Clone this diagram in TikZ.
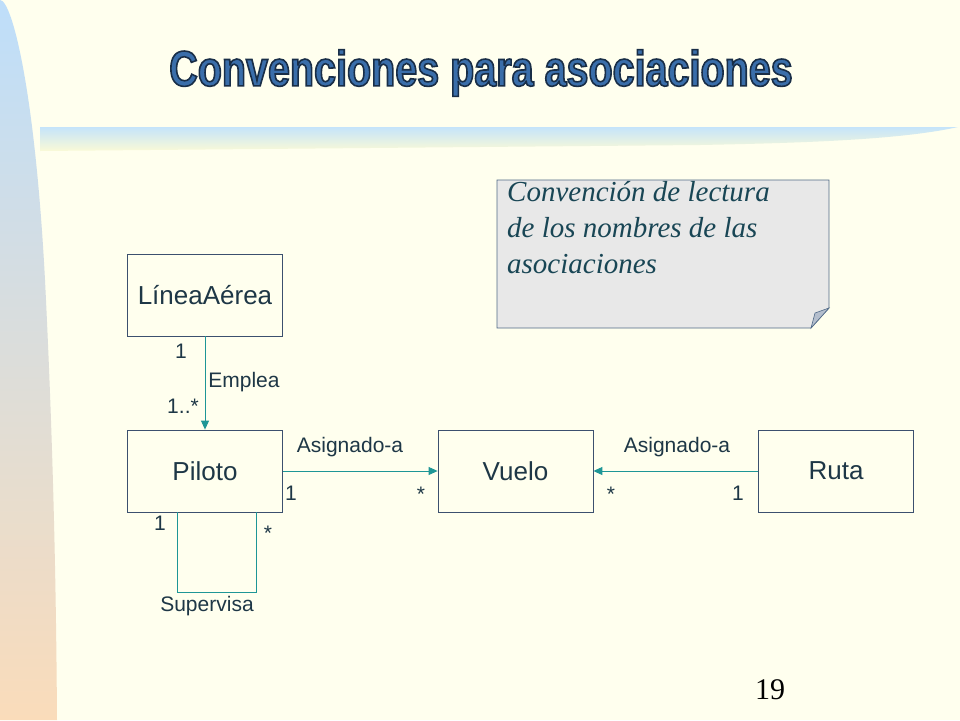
\documentclass[tikz,border=0pt]{standalone}
\usepackage{fontspec}
\setmainfont{Liberation Sans}
\newfontfamily\titlefont[FakeStretch=0.79]{Liberation Sans}
\newfontfamily\notefont{Liberation Serif}
\usetikzlibrary{arrows.meta,positioning,calc}
\definecolor{bgcream}{RGB}{255,255,238}
\definecolor{bandblue}{RGB}{190,222,250}
\definecolor{bandpeach}{RGB}{250,220,186}
\definecolor{barblue}{RGB}{197,228,250}
\definecolor{baryellow}{RGB}{250,250,215}
\definecolor{titleblue}{RGB}{58,110,170}
\definecolor{boxline}{RGB}{60,80,110}
\definecolor{txt}{RGB}{30,55,70}
\definecolor{teal}{RGB}{30,150,150}
\definecolor{notefill}{RGB}{232,232,232}
\definecolor{noteline}{RGB}{80,105,135}
\definecolor{foldfill}{RGB}{180,190,205}
\definecolor{notetxt}{RGB}{25,70,85}
\newcommand{\outlinetitle}[1]{\special{pdf:literal 2 Tr 1.6 w 0.1 0.18 0.28 RG}#1\special{pdf:literal 0 Tr}}
\tikzset{
  classbox/.style={draw=boxline, line width=0.8pt, minimum width=155pt, minimum height=82pt,
    inner sep=0pt, font=\fontsize{26}{30}\selectfont, text=txt},
  assoc/.style={draw=teal, line width=0.9pt},
  assocarrow/.style={assoc, -{Triangle[length=9pt,width=8pt]}},
  lbl/.style={font=\fontsize{21}{24}\selectfont, text=txt, inner sep=0pt},
  notetext/.style={anchor=base west, inner sep=0pt, font=\notefont\itshape\fontsize{29}{34}\selectfont, text=notetxt},
}
\begin{document}
\begin{tikzpicture}[x=1pt,y=-1pt]
\useasboundingbox (0,0) rectangle (960,720);
\fill[bgcream] (0,0) rectangle (960,720);
% left gradient band
\shade[top color=bandblue, bottom color=bandpeach]
  (0,0) .. controls (12,0) and (35,90) .. (45,280) .. controls (52,420) and (56,560) .. (57,720) -- (0,720) -- cycle;
% horizontal gradient bar
\shade[top color=barblue, bottom color=baryellow]
  (40,127) -- (958,127) .. controls (900,140) and (800,143) .. (700,145) -- (40,151) -- cycle;
% title
\node[font=\titlefont\bfseries\fontsize{50}{54}\selectfont, inner sep=0pt, text=titleblue] (title) at (481,73) {\outlinetitle{Convenciones para asociaciones}};
% note
\path[fill=notefill, draw=noteline, line width=0.8pt]
  (497,180) -- (829,180) -- (829,308) -- (811,328) -- (497,328) -- cycle;
\path[fill=foldfill, draw=noteline, line width=0.6pt]
  (829,308) -- (811,328) -- (815,313) -- cycle;
\node[notetext] (n1) at (507,201) {Convención de lectura};
\node[notetext] (n2) at (507,237) {de los nombres de las};
\node[notetext] (n3) at (507,273) {asociaciones};
% classes
\node[classbox] (linea) at (205,295) {LíneaAérea};
\node[classbox] (piloto) at (205,471) {Piloto};
\node[classbox] (vuelo) at (515.5,471) {Vuelo};
\node[classbox] (ruta) at (836,471) {Ruta};
% associations
\draw[assocarrow] (linea.south) -- (piloto.north);
\draw[assocarrow] (piloto.east) -- (vuelo.west);
\draw[assocarrow] (ruta.west) -- (vuelo.east);
\draw[assoc] (piloto.south west) ++(50,0) coordinate (sA) -- ++(0,80) -- ++(79,0) -- ++(0,-80) coordinate (sB);
% labels
\node[lbl] (l1) at (181,351) {1};
\node[lbl] (lemp) at (244,382) {Emplea};
\node[lbl] (l2) at (183,406) {1..*};
\node[lbl] (las1) at (350,447) {Asignado-a};
\node[lbl] (l3) at (291,493) {1};
\node[lbl] (l4) at (421,494) {*};
\node[lbl] (las2) at (677,447) {Asignado-a};
\node[lbl] (l5) at (611,494) {*};
\node[lbl] (l6) at (738,493) {1};
\node[lbl] (l7) at (160,523) {1};
\node[lbl] (l8) at (268,533) {*};
\node[lbl] (lsup) at (207,606) {Supervisa};
% page number
\node[font=\notefont\fontsize{30}{34}\selectfont] (pg) at (770,690) {19};
\end{tikzpicture}
\end{document}
